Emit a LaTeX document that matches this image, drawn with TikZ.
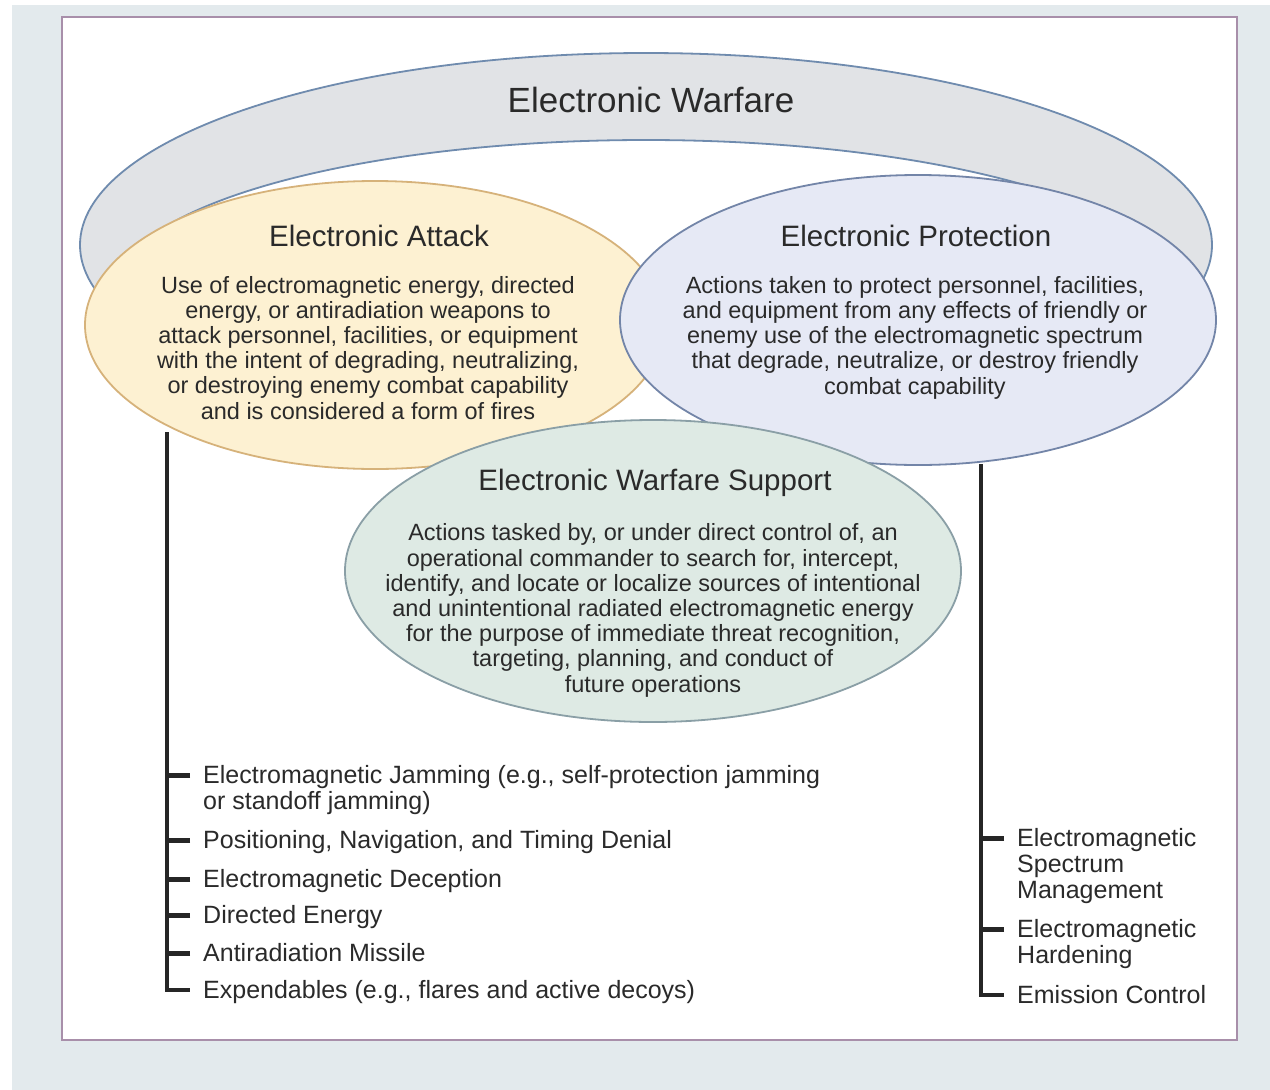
\documentclass[tikz,border=0pt]{standalone}
\usepackage{fontspec}
\setmainfont{Liberation Sans}
\usetikzlibrary{shapes.geometric}

\begin{document}
\begin{tikzpicture}[x=1pt,y=-1pt,
    oval/.style={ellipse,draw,line width=1.8pt,inner sep=0pt},
    head/.style={text=ink,anchor=base,font=\fontsize{29.5}{32}\selectfont},
    body/.style={text=ink,anchor=base,align=center,font=\fontsize{23.5}{25.2}\selectfont},
    item/.style={text=ink,anchor=base west,align=left,inner sep=0pt,font=\fontsize{25}{26}\selectfont},
    trunk/.style={line width=3.2pt,draw=black!85},
    tick/.style={line width=5pt,draw=black!85}]

% Changing colors
\definecolor{ink}{HTML}{2A2A2A}%
\definecolor{panel}{HTML}{E3EAED}%
\definecolor{boxline}{HTML}{A88FAA}%
\definecolor{ewgray}{HTML}{E1E3E6}%
\definecolor{ewline}{HTML}{6F8BAE}%
\definecolor{eafill}{HTML}{FDF1D2}%
\definecolor{ealine}{HTML}{D6B27A}%
\definecolor{epfill}{HTML}{E6E9F5}%
\definecolor{epline}{HTML}{7385A8}%
\definecolor{esfill}{HTML}{DEEAE4}%
\definecolor{esline}{HTML}{8A9FA6}%

\useasboundingbox (0,0) rectangle (1270,1090);

% Filling background and frame
\fill[panel] (12,5) rectangle (1270,1090);
\draw[boxline,line width=2pt,fill=white] (62,17) rectangle (1237,1040);

% Drawing ring EW
\node[oval,draw=ewline,fill=ewgray,minimum width=1132pt,minimum height=384pt] (ew) at (646,245) {};
\node[oval,draw=ewline,fill=white,minimum width=1060pt,minimum height=300pt] (ewin) at (646,290) {};
\node[head,font=\fontsize{35}{37}\selectfont] (ewhead) at (651,112) {Electronic Warfare};

% Drawing ellipse EA (base is the last line)
\node[oval,draw=ealine,fill=eafill,minimum width=580pt,minimum height=288pt] (ea) at (375,325) {};
\node[head] (eahead) at (379,246) {Electronic Attack};
\node[body] (eabody) at (368,419) {Use of electromagnetic energy, directed\\
  energy, or antiradiation weapons to\\
  attack personnel, facilities, or equipment\\
  with the intent of degrading, neutralizing,\\
  or destroying enemy combat capability\\
  and is considered a form of fires};

% Drawing ellipse EP
\node[oval,draw=epline,fill=epfill,minimum width=596pt,minimum height=290pt] (ep) at (918,320) {};
\node[head] (ephead) at (916,246) {Electronic Protection};
\node[body] (epbody) at (915,394) {Actions taken to protect personnel, facilities,\\
  and equipment from any effects of friendly or\\
  enemy use of the electromagnetic spectrum\\
  that degrade, neutralize, or destroy friendly\\
  combat capability};

% Drawing ellipse ES
\node[oval,draw=esline,fill=esfill,minimum width=616pt,minimum height=302pt] (es) at (653,571) {};
\node[head] (eshead) at (655,490) {Electronic Warfare Support};
\node[body] (esbody) at (653,692) {Actions tasked by, or under direct control of, an\\
  operational commander to search for, intercept,\\
  identify, and locate or localize sources of intentional\\
  and unintentional radiated electromagnetic energy\\
  for the purpose of immediate threat recognition,\\
  targeting, planning, and conduct of\\
  future operations};

% Marking items of EA
\node[item] (ajam) at (203,809) {Electromagnetic Jamming (e.g., self-protection jamming\\or standoff jamming)};
\node[item] (apnt) at (203,848) {Positioning, Navigation, and Timing Denial};
\node[item] (adec) at (203,887) {Electromagnetic Deception};
\node[item] (adir) at (203,923) {Directed Energy};
\node[item] (aarm) at (203,961) {Antiradiation Missile};
\node[item] (aexp) at (203,998) {Expendables (e.g., flares and active decoys)};

% Marking items of EP
\node[item] (pspm) at (1017,898) {Electromagnetic\\Spectrum\\Management};
\node[item] (phrd) at (1017,963) {Electromagnetic\\Hardening};
\node[item] (pemc) at (1017,1003) {Emission Control};

% Drawing trunks
\coordinate (eatrunk) at (167,432);
\coordinate (eptrunk) at (981,464);
\draw[trunk] (eatrunk) |- ([xshift=-13pt,yshift=8pt]aexp.base west);
\draw[trunk] (eptrunk) |- ([xshift=-13pt,yshift=8pt]pemc.base west);

% Drawing ticks (shift up to the first line)
\foreach \n/\up in {ajam/34,apnt/8,adec/8,adir/8,aarm/8,pspm/60,phrd/34}
  \draw[tick] ([xshift=-13pt,yshift=\up pt]\n.base west) -- ++(-24,0);

\end{tikzpicture}
\end{document}
